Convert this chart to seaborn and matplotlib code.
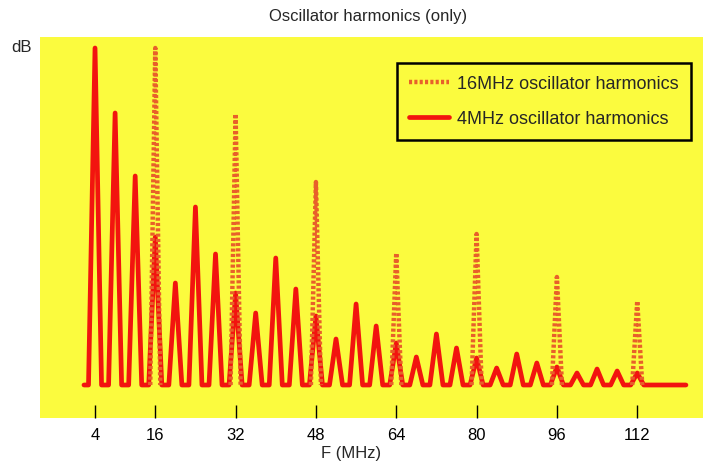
import pandas as pd
import matplotlib.pyplot as plt
import seaborn as sns

# ---------- DATA (levels, relative dB) ----------
freq_4mhz = [4, 8, 12, 16, 20, 24, 28, 32, 36, 40, 44, 48, 52, 56,
             60, 64, 68, 72, 76, 80, 84, 88, 92, 96, 100, 104, 108, 112]
level_4mhz = [337, 272, 209, 148, 102, 178, 131, 92, 72, 127, 96, 69, 46, 81,
              59, 42, 28, 51, 37, 27, 17, 31, 22, 18, 12, 16, 14, 12]
freq_16mhz = [16, 32, 48, 64, 80, 96, 112]
level_16mhz = [337, 271, 203, 132, 151, 108, 84]
sweep_start, sweep_stop = 1.8, 121.7
x_ticks = [4, 16, 32, 48, 64, 80, 96, 112]

label_16 = "16MHz oscillator harmonics"
label_4 = "4MHz oscillator harmonics"

YELLOW = "#fbfb3e"
RED = "#f2140f"
ORANGE = "#e8602a"


# ---------- HELPERS ----------
def peak_rows(freqs, levels, half_width):
    """Turn each harmonic into a triangle (base - top - base)"""
    rows = []
    for i, (f, lvl) in enumerate(zip(freqs, levels)):
        rows += [(i, f - half_width, 0), (i, f, lvl), (i, f + half_width, 0)]
    return pd.DataFrame(rows, columns=["peak", "freq", "level"])


df4 = peak_rows(freq_4mhz, level_4mhz, 1.3)
df4["peak"] = 0
df4 = pd.concat([
    pd.DataFrame([(0, sweep_start, 0)], columns=df4.columns),
    df4,
    pd.DataFrame([(0, sweep_stop, 0)], columns=df4.columns),
], ignore_index=True)
df16 = peak_rows(freq_16mhz, level_16mhz, 1.0)

# ---------- PLOT ----------
sns.set_theme(style="white")
plt.rcParams["font.family"] = ["Liberation Sans", "DejaVu Sans"]

fig = plt.figure(figsize=(7.06, 4.61), dpi=100)
ax = fig.add_axes([40 / 706, 1 - 418 / 461, 663 / 706, 381 / 461])
ax.set_facecolor(YELLOW)

sns.lineplot(data=df4, x="freq", y="level", sort=False, estimator=None,
             color=RED, linewidth=3.4, label=label_4, ax=ax)
sns.lineplot(data=df16, x="freq", y="level", units="peak", sort=False,
             estimator=None, color=ORANGE, linewidth=3.2,
             linestyle=(0, (0.7, 0.5)), label=label_16, ax=ax)

ax.set_xlim(-6.96, 125.1)
ax.set_ylim(-33, 348)
ax.set_xticks(x_ticks)
ax.set_yticks([])
ax.tick_params(axis="x", direction="in", length=9.5, width=1, pad=7,
               labelsize=12, colors="black", bottom=True)
for s in ax.spines.values():
    s.set_visible(False)

ax.set_xlabel("F (MHz)", fontsize=12)
ax.xaxis.set_label_coords((351 - 40) / 663, -0.073)
ax.set_ylabel("")

handles, labels = ax.get_legend_handles_labels()
uniq = dict(zip(labels, handles))
leg = ax.legend([uniq[label_16], uniq[label_4]], [label_16, label_4],
                loc="upper left", bbox_to_anchor=(0.538, 0.932),
                borderaxespad=0, fontsize=13, handlelength=2.2,
                handletextpad=0.45, labelspacing=1.0, borderpad=0.7,
                fancybox=False, framealpha=1)
leg.get_frame().set_facecolor(YELLOW)
leg.get_frame().set_edgecolor("black")
leg.get_frame().set_linewidth(1.8)

fig.text(368 / 706, 1 - 17 / 461, "Oscillator harmonics (only)",
         ha="center", va="center", fontsize=12)
fig.text(22 / 706, 1 - 47 / 461, "dB", ha="center", va="center", fontsize=12)

fig.savefig("out.png", dpi=100, facecolor="white")
